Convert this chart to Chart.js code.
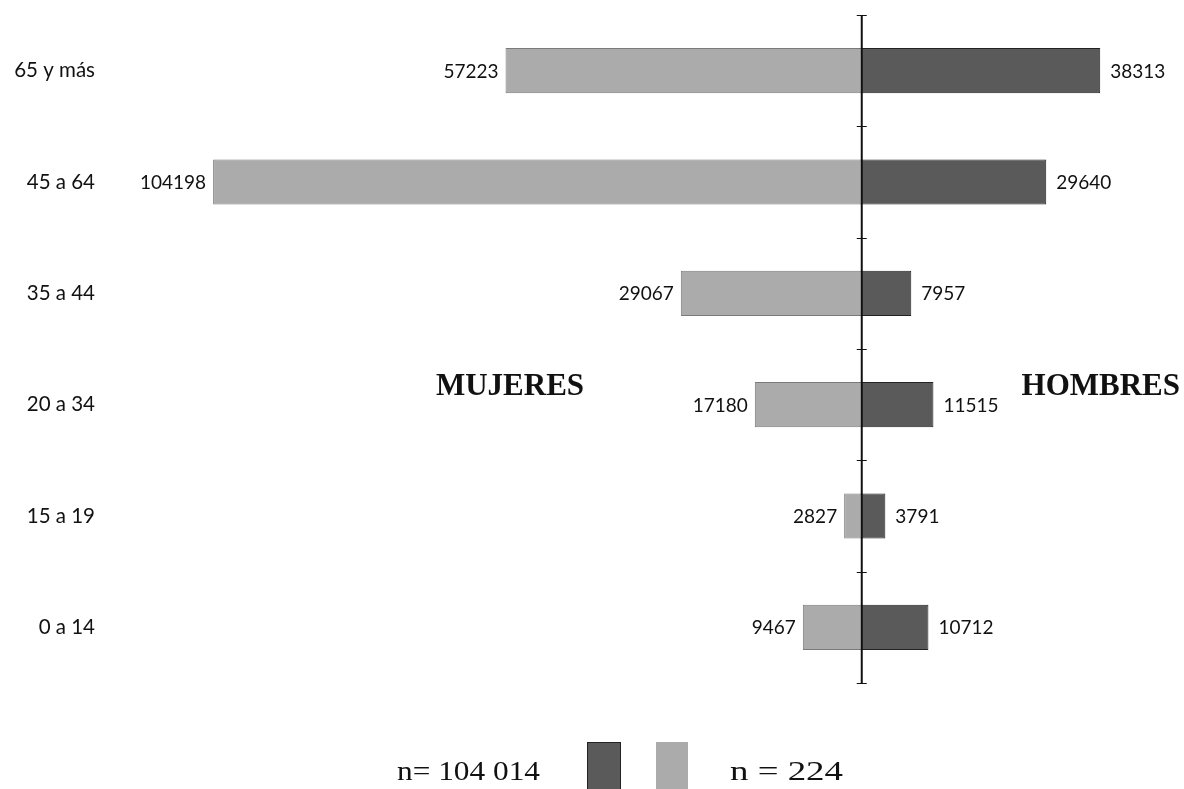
<!DOCTYPE html>
<html>
<head>
<meta charset="utf-8">
<script src="https://cdn.jsdelivr.net/npm/chart.js@4.4.1/dist/chart.umd.min.js"></script>
<style>
  html, body { margin: 0; padding: 0; background: #fff; }
  #wrap { width: 1184px; height: 789px; position: relative; }
</style>
</head>
<body>
<div id="wrap"><canvas id="pyr"></canvas></div>
<script>
const ageGroups = ['65 y más', '45 a 64', '35 a 44', '20 a 34', '15 a 19', '0 a 14'];
const mujeres   = [57223, 104198, 29067, 17180, 2827, 9467];
const hombres   = [38313, 29640, 7957, 11515, 3791, 10712];
const legendTexts = ['n= 104 014', 'n = 224'];

const LIGHT = '#ababab';
const DARK  = '#5a5a5a';

// value labels at the end of each bar
const valueLabels = {
  id: 'valueLabels',
  afterDatasetsDraw(chart) {
    const ctx = chart.ctx;
    ctx.save();
    ctx.font = '19px Lato';
    ctx.fillStyle = '#111';
    ctx.textBaseline = 'middle';
    chart.data.datasets.forEach((ds, di) => {
      chart.getDatasetMeta(di).data.forEach((bar, i) => {
        const v = ds.data[i];
        if (v < 0) {
          ctx.textAlign = 'right';
          ctx.fillText(String(-v), bar.x - 7, bar.y + 1);
        } else {
          ctx.textAlign = 'left';
          ctx.fillText(String(v), bar.x + 10, bar.y + 1);
        }
      });
    });
    ctx.restore();
  }
};

// text squeezed/stretched to a given width
function wideText(ctx, txt, left, right, y) {
  const w = ctx.measureText(txt).width;
  ctx.save();
  ctx.translate(left, y);
  ctx.scale((right - left) / w, 1);
  ctx.textAlign = 'left';
  ctx.fillText(txt, 0, 0);
  ctx.restore();
}

// center axis with ticks between age groups, side titles and bottom legend
const decorations = {
  id: 'decorations',
  afterDatasetsDraw(chart) {
    const { ctx, chartArea, scales } = chart;
    const x0 = scales.x.getPixelForValue(0);
    const step = scales.y.getPixelForValue(1) - scales.y.getPixelForValue(0);
    ctx.save();
    ctx.strokeStyle = '#111';
    ctx.lineWidth = 2;
    ctx.beginPath();
    ctx.moveTo(x0, chartArea.top);
    ctx.lineTo(x0, chartArea.bottom);
    ctx.stroke();
    ctx.lineWidth = 1;
    for (let i = 0; i <= ageGroups.length; i++) {
      const y = Math.round(scales.y.getPixelForValue(i) - step / 2) + 0.5;
      ctx.beginPath();
      ctx.moveTo(x0 - 5, y);
      ctx.lineTo(x0 + 5, y);
      ctx.stroke();
    }

    const yTitle = scales.y.getPixelForValue(3) - 10;
    ctx.fillStyle = '#111';
    ctx.font = 'bold 31px "Liberation Serif"';
    ctx.textBaseline = 'alphabetic';
    ctx.textAlign = 'center';
    ctx.fillText('MUJERES', 510, yTitle);
    ctx.textAlign = 'right';
    ctx.fillText('HOMBRES', chart.width - 4, yTitle);

    // legend
    ctx.font = '27px "Liberation Serif"';
    wideText(ctx, legendTexts[0], 397, 540, 780);
    wideText(ctx, legendTexts[1], 730, 843, 780);
    ctx.fillStyle = DARK;
    ctx.fillRect(587, 742, 34, 47);
    ctx.strokeStyle = '#222';
    ctx.strokeRect(587.5, 742.5, 33, 47);
    ctx.fillStyle = LIGHT;
    ctx.fillRect(656, 742, 32, 47);
    ctx.restore();
  }
};

new Chart(document.getElementById('pyr'), {
  type: 'bar',
  data: {
    labels: ageGroups,
    datasets: [
      { label: 'Mujeres', data: mujeres.map(v => -v), backgroundColor: LIGHT,
        borderColor: '#7a7a7a', borderWidth: 1, borderSkipped: false },
      { label: 'Hombres', data: hombres, backgroundColor: DARK,
        borderColor: '#222', borderWidth: 1, borderSkipped: false },
    ],
  },
  options: {
    indexAxis: 'y',
    responsive: true, maintainAspectRatio: false,
    animation: false,
    layout: { padding: { top: 15, bottom: 106, right: 11, left: 0 } },
    categoryPercentage: 1,
    barPercentage: 0.405,
    plugins: { legend: { display: false }, tooltip: { enabled: false } },
    scales: {
      x: { stacked: true, min: -110000, max: 50000, display: false },
      y: {
        stacked: true,
        grid: { display: false, drawTicks: false },
        border: { display: false },
        ticks: { color: '#111', font: { family: 'Lato', size: 20.5 }, padding: 82 },
        afterFit: s => { s.width = 177; s.paddingTop = 0; s.paddingBottom = 0; },
      },
    },
  },
  plugins: [valueLabels, decorations],
});
</script>
</body>
</html>
